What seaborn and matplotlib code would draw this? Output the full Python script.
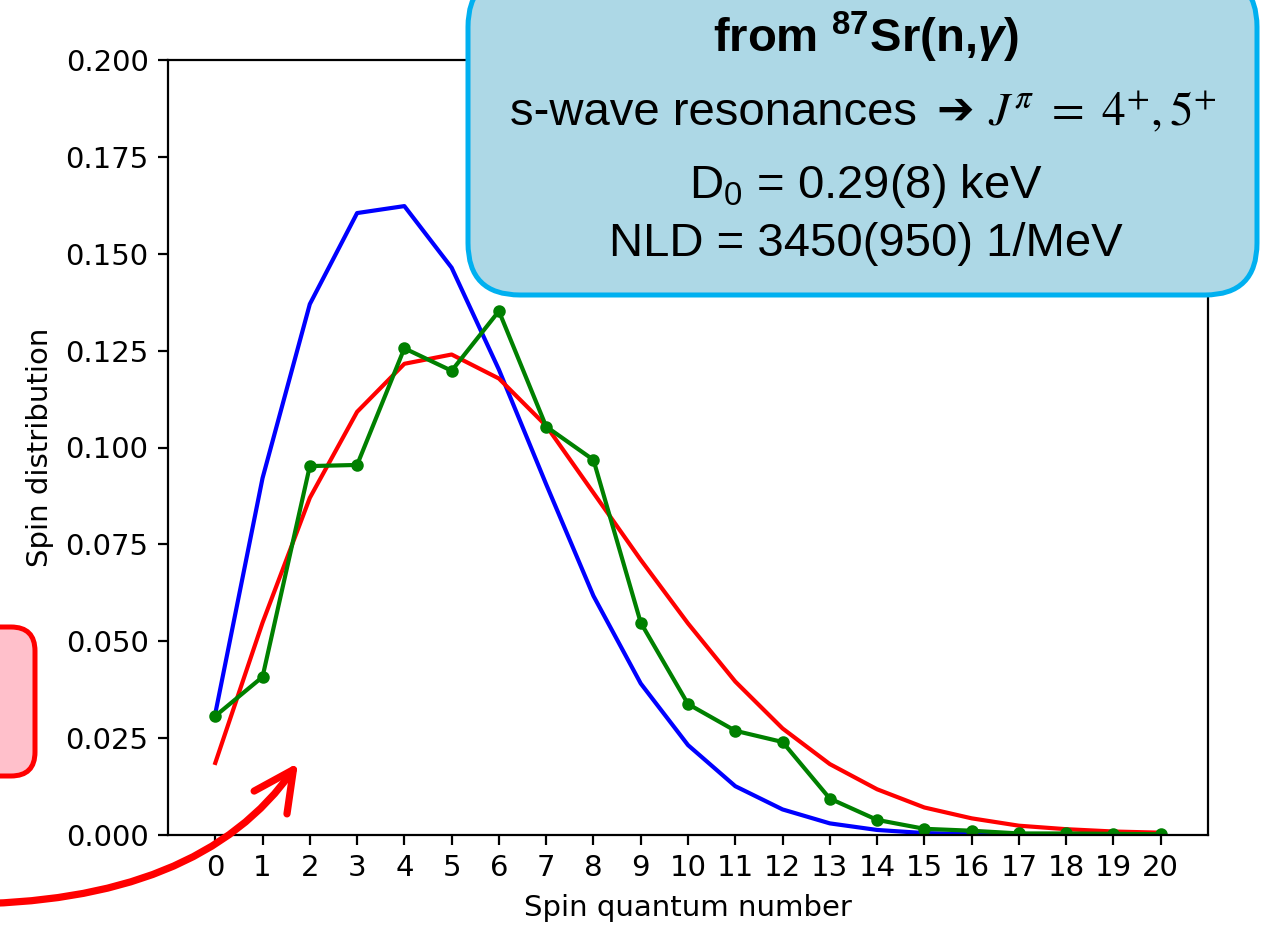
import numpy as np
import pandas as pd
import matplotlib
matplotlib.use("Agg")
import matplotlib.pyplot as plt
import seaborn as sns
from matplotlib.patches import FancyBboxPatch, FancyArrowPatch
from matplotlib.path import Path
from matplotlib.transforms import IdentityTransform

# ---------------- data ----------------
spins = list(range(21))
blue_vals = [0.0313, 0.0921, 0.1370, 0.1605, 0.1623, 0.1464, 0.1201, 0.0905, 0.0617,
             0.0391, 0.0232, 0.0126, 0.0066, 0.0030, 0.0013, 0.0005, 0.0002, 0.0001,
             0.0000, 0.0000, 0.0000]
red_vals = [0.0186, 0.0548, 0.0870, 0.1092, 0.1216, 0.1240, 0.1178, 0.1056, 0.0883,
            0.0710, 0.0546, 0.0396, 0.0275, 0.0183, 0.0118, 0.0071, 0.0043, 0.0024,
            0.0015, 0.0009, 0.0006]
green_vals = [0.0307, 0.0408, 0.0952, 0.0955, 0.1256, 0.1198, 0.1352, 0.1054, 0.0968,
              0.0548, 0.0338, 0.0269, 0.0240, 0.0094, 0.0039, 0.0016, 0.0011, 0.0004,
              0.0004, 0.0003, 0.0002]
yticks = [0.000, 0.025, 0.050, 0.075, 0.100, 0.125, 0.150, 0.175, 0.200]

title_txt = r"from $\mathbf{^{87}}$Sr(n,$\mathbfit{\gamma}$)"
line2a_txt = "s-wave resonances"
line2b_txt = "➔"
line2c_txt = r"$J^{\pi}\ =\ 4^{+},5^{+}$"
line3_txt = r"D$_{0}$ = 0.29(8) keV"
line4_txt = "NLD = 3450(950) 1/MeV"

# ---------------- style ----------------
plt.rcParams['font.family'] = ['DejaVu Sans']
plt.rcParams['mathtext.fontset'] = 'custom'
plt.rcParams['mathtext.rm'] = 'Liberation Sans'
plt.rcParams['mathtext.it'] = 'Liberation Sans:italic'
plt.rcParams['mathtext.bf'] = 'Liberation Sans:bold'
try:
    plt.rcParams['mathtext.bfit'] = 'Liberation Sans:italic:bold'
except KeyError:
    pass

W, H, DPI = 1263, 926, 200
fig = plt.figure(figsize=(W / DPI, H / DPI), dpi=DPI)
ax = fig.add_axes([168 / W, 1 - 835 / H, (1208 - 168) / W, (835 - 60) / H])

df = pd.DataFrame({"spin": spins, "blue": blue_vals, "red": red_vals, "green": green_vals})

sns.lineplot(data=df, x="spin", y="blue", color="#0000FF", lw=1.5, ax=ax)
sns.lineplot(data=df, x="spin", y="red", color="#FF0000", lw=1.5, ax=ax)
sns.lineplot(data=df, x="spin", y="green", color="#008000", lw=1.5, marker="o",
             markersize=3.5, markeredgecolor="#008000", markeredgewidth=1.0, ax=ax)

ax.set_xlim(-1, 21)
ax.set_ylim(0, 0.2)
ax.set_xticks(spins)
ax.set_yticks(yticks)
ax.set_yticklabels([f"{v:.3f}" for v in yticks])
ax.tick_params(labelsize=10.5)
ax.set_xlabel("Spin quantum number", fontsize=10.5)
ax.set_ylabel("Spin distribution", fontsize=10.5)
for s in ax.spines.values():
    s.set_color("black")

# ---------------- annotations (pixel coordinates, y up) ----------------
def py(y):
    return H - y

idt = IdentityTransform()

blue_box = FancyBboxPatch((468, py(295)), 1257 - 468, 320,
                          boxstyle="round,pad=0,rounding_size=52",
                          facecolor="#ADD8E6", edgecolor="#00B0F0", lw=1.8,
                          transform=idt, zorder=5, clip_on=False)
fig.add_artist(blue_box)

pink_box = FancyBboxPatch((-60, py(776)), 95, 149,
                          boxstyle="round,pad=0,rounding_size=24",
                          facecolor="#FFC0CB", edgecolor="#FF0000", lw=1.8,
                          transform=idt, zorder=5, clip_on=False)
fig.add_artist(pink_box)

cx = 866
fs = 17
fig.text(cx / W, 1 - 52 / H, title_txt, ha="center", va="baseline", fontsize=fs,
         fontweight="bold", family=["Liberation Sans", "DejaVu Sans"],
         math_fontfamily="custom", zorder=6)
fig.text(917 / W, 1 - 125 / H, line2a_txt, ha="right", va="baseline", fontsize=fs,
         family=["Liberation Sans", "DejaVu Sans"], zorder=6)
fig.text(955 / W, 1 - 124 / H, line2b_txt, ha="center", va="baseline", fontsize=fs * 0.95,
         family=["DejaVu Sans"], zorder=6)
fig.text(988 / W, 1 - 125 / H, line2c_txt, ha="left", va="baseline", fontsize=fs,
         math_fontfamily="stix", zorder=6)
fig.text(cx / W, 1 - 198 / H, line3_txt, ha="center", va="baseline", fontsize=fs,
         family=["Liberation Sans", "DejaVu Sans"], math_fontfamily="custom", zorder=6)
fig.text(cx / W, 1 - 256 / H, line4_txt, ha="center", va="baseline", fontsize=fs,
         family=["Liberation Sans", "DejaVu Sans"], zorder=6)

# curved red arrow
verts = [(-40, py(904)), (200, py(904)), (298, py(763))]
codes = [Path.MOVETO, Path.CURVE3, Path.CURVE3]
arrow = FancyArrowPatch(path=Path(verts, codes),
                        arrowstyle="->,head_length=0.4,head_width=0.2",
                        mutation_scale=36, color="#FF0000", lw=2.6,
                        capstyle="round", joinstyle="round",
                        transform=idt, zorder=6, clip_on=False)
fig.add_artist(arrow)

fig.savefig("out.png", dpi=DPI)
